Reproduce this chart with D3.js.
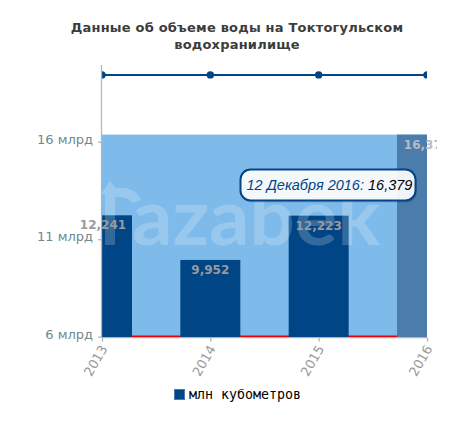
<!DOCTYPE html>
<html>
<head>
<meta charset="utf-8">
<script src="https://cdnjs.cloudflare.com/ajax/libs/d3/7.8.5/d3.min.js"></script>
<style>
  html, body { margin: 0; padding: 0; background: #fff; }
  svg { display: block; font-family: "DejaVu Sans", sans-serif; }
</style>
</head>
<body>
<svg id="chart" width="456" height="427"></svg>
<script>
// values
const years = ["2013", "2014", "2015", "2016"];
const volumes = [12241, 9952, 12223, 16379];
const volumeLabels = ["12,241", "9,952", "12,223", "16,379"];
const lineValues = [19440, 19440, 19440, 19440];
const baseValues = [6000, 6000, 6000, 6000];
const yTicks = [6000, 11000, 16000];
const yTickLabels = ["6 млрд", "11 млрд", "16 млрд"];
const titleLines = ["Данные об объеме воды на Токтогульском", "водохранилище"];
const legendLabel = "млн кубометров";
const tooltipDate = "12 Декабря 2016: ";
const tooltipValue = "16,379";

const svg = d3.select("#chart");

const x = d3.scalePoint().domain(years).range([102, 427]);
const y = d3.scaleLinear().domain([6000, 16000]).range([337, 142]);
const barWidth = 60;

// Title
svg.append("g")
  .selectAll("text")
  .data(titleLines)
  .join("text")
  .attr("x", 237)
  .attr("y", (d, i) => 32 + i * 17)
  .attr("text-anchor", "middle")
  .style("font-size", "13px")
  .style("font-weight", "bold")
  .style("letter-spacing", "0.2px")
  .style("fill", "#3c3c3c")
  .text((d) => d);

// Clip so the edge bars stop at the plot border
svg.append("clipPath")
  .attr("id", "plot-clip")
  .append("rect")
  .attr("x", 102)
  .attr("y", 60)
  .attr("width", 325)
  .attr("height", 277);

// The last label is cut a little past the plot
svg.append("clipPath")
  .attr("id", "label-clip")
  .append("rect")
  .attr("x", 60)
  .attr("y", 60)
  .attr("width", 377)
  .attr("height", 277);

const plot = svg.append("g").attr("clip-path", "url(#plot-clip)");

// Hover band behind the bars
plot.append("rect")
  .attr("x", 102)
  .attr("y", y(d3.max(volumes)))
  .attr("width", 325)
  .attr("height", y(6000) - y(d3.max(volumes)))
  .attr("fill", "#7fbbea");

// Red base line
plot.append("path")
  .datum(baseValues)
  .attr("d", d3.line().x((d, i) => x(years[i])).y((d) => y(d) - 0.8))
  .attr("fill", "none")
  .attr("stroke", "#f00000")
  .attr("stroke-width", 1.5);

// Bars
plot.selectAll(".bar")
  .data(volumes)
  .join("rect")
  .attr("class", "bar")
  .attr("x", (d, i) => x(years[i]) - barWidth / 2)
  .attr("y", (d) => y(d))
  .attr("width", barWidth)
  .attr("height", (d) => y(6000) - y(d))
  .attr("fill", (d, i) => (i === 3 ? "#4c7cab" : "#004586"));

// Watermark
const watermark = svg.append("g").style("opacity", 0.2);
watermark.append("path")
  .attr("d", "M101,194L110,181L120,194Z M105,245V194H115V245Z M110,188H122Q136,188 141,200L132,203Q129,197 120,197H110Z")
  .attr("fill", "#fff");
watermark.append("text")
  .attr("x", 132)
  .attr("y", 245)
  .attr("textLength", 248)
  .attr("lengthAdjust", "spacingAndGlyphs")
  .style("font-family", "Lato, sans-serif")
  .style("font-size", "78px")
  .style("font-weight", "700")
  .style("fill", "#fff")
  .text("azabek");

// Line series
plot.append("path")
  .datum(lineValues)
  .attr("d", d3.line().x((d, i) => x(years[i])).y((d) => y(d)))
  .attr("fill", "none")
  .attr("stroke", "#004586")
  .attr("stroke-width", 2);

plot.selectAll(".dot")
  .data(lineValues)
  .join("circle")
  .attr("class", "dot")
  .attr("cx", (d, i) => x(years[i]))
  .attr("cy", (d) => y(d))
  .attr("r", 3.7)
  .attr("fill", "#004586");

// Y axis
const yAxis = svg.append("g")
  .attr("transform", "translate(102,-0.3)")
  .call(d3.axisLeft(y).tickValues(yTicks).tickFormat((d, i) => yTickLabels[i]).tickSize(4).tickPadding(5));
yAxis.select(".domain").remove();
yAxis.selectAll(".tick line").attr("stroke", "#b5b5b5").attr("stroke-width", 1.3);
yAxis.selectAll("text")
  .attr("dy", "0.12em")
  .style("font-size", "13px")
  .style("font-family", "'DejaVu Sans', sans-serif")
  .style("fill", "#708890");

svg.append("line")
  .attr("x1", 101.5).attr("x2", 101.5)
  .attr("y1", 65).attr("y2", 337.5)
  .attr("stroke", "#b5b5b5")
  .attr("stroke-width", 1.3);

// X axis
const xAxis = svg.append("g")
  .attr("transform", "translate(0,337.6)")
  .call(d3.axisBottom(x).tickSize(4).tickPadding(3));
xAxis.select(".domain").attr("stroke", "#b5b5b5").attr("stroke-width", 1.3).attr("d", "M102,0H427");
xAxis.selectAll(".tick line").attr("stroke", "#b5b5b5").attr("stroke-width", 1.3);
xAxis.selectAll("text")
  .attr("text-anchor", "end")
  .attr("transform", "translate(2,9) rotate(-60)")
  .attr("dy", "0.3em")
  .attr("y", 0)
  .style("font-size", "13px")
  .style("font-family", "'DejaVu Sans', sans-serif")
  .style("fill", "#999");

// Bar value labels
svg.append("g")
  .attr("clip-path", "url(#label-clip)")
  .selectAll(".bar-label")
  .data(volumes)
  .join("text")
  .attr("class", "bar-label")
  .attr("x", (d, i) => x(years[i]) + (i === 0 ? 1 : 0))
  .attr("y", (d) => y(d) + 14)
  .attr("text-anchor", "middle")
  .style("font-size", "12px")
  .style("font-weight", "bold")
  .style("fill", (d, i) => (i === 3 ? "#b4bcc6" : "#9a9a9a"))
  .text((d, i) => volumeLabels[i]);

// Tooltip
const tip = svg.append("g").attr("transform", "translate(240.5,169.5)");
tip.append("rect")
  .attr("x", 1.5).attr("y", 2)
  .attr("width", 175).attr("height", 31).attr("rx", 10)
  .attr("fill", "#000").attr("opacity", 0.12);
tip.append("rect")
  .attr("width", 175).attr("height", 31).attr("rx", 10)
  .attr("fill", "#fff").attr("fill-opacity", 0.92)
  .attr("stroke", "#004586").attr("stroke-width", 2);
const tipText = tip.append("text")
  .attr("x", 6).attr("y", 20.5)
  .style("font-size", "14.5px")
  .style("font-family", "'Liberation Sans', sans-serif")
  .style("font-style", "italic");
tipText.append("tspan").attr("fill", "#004586").text(tooltipDate);
tipText.append("tspan").attr("fill", "#000").text(tooltipValue);

// Legend
const legend = svg.append("g").attr("transform", "translate(174.5,389.5)");
legend.append("rect")
  .attr("width", 10).attr("height", 10)
  .attr("fill", "#004586")
  .attr("stroke", "#4c7cab");
legend.append("text")
  .attr("x", 14.5).attr("y", 9)
  .style("font-family", "'DejaVu Sans Mono', monospace")
  .style("font-size", "13.3px")
  .style("fill", "#000")
  .text(legendLabel);
</script>
</body>
</html>
